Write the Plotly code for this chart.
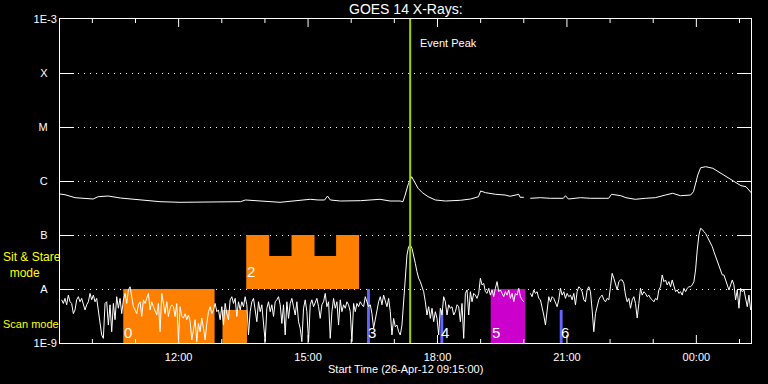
import numpy as np
import pandas as pd
import plotly.graph_objects as go

# ---------------- data ----------------
AXIS_START = "2012-04-26 09:15:00"
AXIS_END = "2012-04-27 01:16:00"

# GOES 14 long channel (1-8 A): minutes after 09:15, flux in units of 1e-9 W/m^2
long_minutes = [0, 7, 21, 46, 53, 67, 84, 111, 139, 167,
                195, 223, 251, 258, 265, 278, 292, 306, 320, 348,
                359, 368, 372, 376, 390, 418, 445, 459, 473, 477,
                480, 484, 489, 493, 498, 504, 512, 522, 536, 557,
                571, 582, 585, 592, 606, 619, 626, 638, 640, 645,
                649, 654, 668, 682, 700, 703, 707, 724, 738, 759,
                763, 767, 780, 787, 800, 814, 828, 842, 852, 863,
                877, 881, 887, 891, 898, 908, 919, 930, 940, 947,
                954, 962]
long_nw = [574, 557, 491, 464, 512, 527, 484, 445, 414, 403,
           403, 403, 414, 445, 439, 421, 408, 403, 421, 458,
           445, 445, 527, 445, 426, 432, 458, 426, 426, 414,
           550, 844, 1202, 971, 733, 607, 512, 445, 426, 439,
           464, 512, 653, 607, 567, 550, 521, 567, 499, 499,
           None, 478, 491, 478, 478, 534, 464, 491, 478, 478,
           478, 567, 534, 491, 458, 478, 491, 550, 592, 534,
           550, 634, 1292, 1762, 1841, 1718, 1390, 1122, 946, 819,
           785, 592]

# GOES 14 short channel (0.5-4 A): regular samples, flux in units of 1e-9 W/m^2
short_first = "2012-04-26 09:17:19"
short_step = "139200ms"
short_nw = [
    6.3, 5.4, 6.7, 5.1, 7.7, 5.8, 5.4, 3.5, 4.1, 6.3,
    7.2, 5.8, 6.7, 5.4, 4.1, 5.1, 5.8, 8.3, 6.3, 7.7,
    5.8, 6.7, 3.8, 2.7, 1.41, 1.22, 5.4, 5.8, 2.15, 5.1,
    1.62, 5.4, 2.7, 7.2, 4.4, 6.7, 3.5, 6.3, 8.3, 5.4,
    9.6, 11.0, 7.2, 4.7, 4.1, 3.5, 5.1, 5.8, 3.1, 6.3,
    5.4, 6.7, 8.3, 4.1, 5.8, 4.7, 3.8, 3.3, 5.4, 1.62,
    8.3, 5.1, 3.5, 5.8, 3.1, 4.4, 5.1, 4.7, 3.1, 5.4,
    1.14, 4.7, 3.1, 2.9, 3.5, 2.7, 3.3, 2.5, 1.14, 1.74,
    2.7, 1.06, 2.3, 1.62, 2.9, 1.87, 1.14, 2.3, 3.8, 4.7,
    3.5, 4.1, 5.4, 3.8, 4.1, 2.7, 4.7, 2.15, 5.4, 3.5,
    2.7, 6.3, 7.2, 5.4, 6.7, 3.1, 5.8, 4.1,
    5.8, 4.7, 7.2, 5.1, 1.41, 3.8, 5.8, 6.7, 4.4, 2.48,
    5.8, 3.8, 5.1, 2.15, 1.06, 4.4, 5.8, 3.8, 5.1, 3.1,
    5.8, 6.3, 7.2, 5.1, 2.3, 5.1, 1.41, 5.8, 2.86, 5.4,
    6.7, 4.7, 3.3, 5.8, 2.48, 1.87, 1.06, 4.4, 6.3, 3.8,
    1.06, 5.1, 6.3, 4.7, 5.8, 6.7, 4.7, 2.86, 5.1, 5.8,
    8.3, 4.7, 5.8, 1.22, 3.8, 6.7, 4.4, 5.8, 2.15, 6.3,
    3.8, 5.1, 4.4, 5.8, 5.1, 3.8, 1.06, 5.4, 3.8, 5.4,
    4.7, 5.8, 5.1, 4.7, 7.2, 5.8, 4.7, 5.1, 3.5, 1.87,
    2.86, 3.8, 5.8, 7.2, 5.1, 7.7, 5.8, 4.7, 6.7, 3.8,
    1.41, 2.86, 2.0, 2.15, 1.62, 1.41, 2.15, 5.8, 18.2, 42.6,
    61, 65,
    56.6, 42.6, 29.9, 20.9, 15.8, 13.7, 11.0, 8.9, 5.8, 3.3,
    4.7, 2.86, 4.4, 2.48, 3.8, 2.86, 1.41, 4.4, 3.3, 7.2,
    5.8, 3.3, 5.1, 4.4, 4.7, 3.3, 3.8, 5.1, 4.7, 2.48,
    5.4, 1.22, 8.3, 9.6, 3.3, 8.9, 5.8, 8.3, 7.7, 6.7,
    8.3, 15.8, 11.9, 12.7, 8.9, 8.3, 10.3, 7.7, 9.6, 7.2,
    10.3, 13.7, 8.9, 9.6, 8.3, 7.2, 8.9, 7.7, 9.6, 6.7,
    8.3, 5.8, 8.3, 7.7, 10.3, 7.2, 6.3, 5.8, None, None,
    None, 8.3, 7.2, 9.6, 8.3, 8.9, 6.7, 6.3, 4.7, 3.3,
    2.15, 4.4, 7.2, 5.8, 7.2, 6.7, 5.8, 4.7, 6.3, 10.3,
    7.7, 8.9, 6.7, 8.3, 7.2, 7.7, 6.3, 8.3, 5.1, 8.9,
    11.0, 10.3,
    8.9, 6.3, 5.8, 9.6, 11.0, 8.9, 4.1, 1.62, 3.5, 4.7,
    6.3, 7.2, 7.7, 6.3, 5.8, 6.7, 6.3, 11.0, 19.5, 15.8,
    12.7, 9.6, 13.7, 14.7, 14.7, 12.7, 7.7, 5.8, 6.7, 4.4,
    6.3, 7.2, 5.4, 2.9, 5.4, 10.3, 7.7, 8.9, 8.3, 7.2,
    7.7, 6.7, 6.3, 5.8, 6.7, 6.3, 9.6, 11.0, 18.2, 13.7,
    14.7, 11.9, 13.7, 11.0, 14.7, 11.9, 8.9, 9.6, 8.3, 8.9,
    7.7, 10.3, 8.9, 10.3, 11.0, 11.0, 11.9, 13.7, 22.5, 53,
    100, 133, 127, 115, 107, 93, 81, 70, 61, 49,
    39.7, 32, 25.9, 20.9, 18.2, 18.2, 14.7, 12.7, 9.6, 11.9,
    14.7, 11.9, 6.3, 9.6, 4.4, 10.3, 8.9, 9.6, 6.7, 4.7,
    7.7, 4.1,
]

event_peak = "2012-04-26 17:22"

# observation blocks
block_labels = ["0", "", "2", "3", "4", "5", "6"]
block_start = ["10:43", "13:01", "13:34", "16:22", "18:04", "19:14", "20:50"]
block_end = ["12:50", "13:35", "16:11", "16:26", "18:08", "20:02", "20:54"]
block_top = [1e-8, 4.1e-9, 1e-7, 1e-8, 4.1e-9, 1e-8, 4.1e-9]
block_bottom = [1e-9, 1e-9, 1e-8, 1e-9, 1e-9, 1e-9, 1e-9]
block_mode = ["scan", "scan", "stare", "blue", "blue", "magenta", "blue"]

# sit & stare block 2 sub-steps
stare_start = ["13:34", "14:06", "14:37", "15:09", "15:39"]
stare_end = ["14:06", "14:37", "15:09", "15:39", "16:11"]
stare_top = [1e-7, 4.1e-8, 1e-7, 4.1e-8, 1e-7]

y_tickvals = [1e-9, 1e-8, 1e-7, 1e-6, 1e-5, 1e-4, 1e-3]
y_ticktext = ["1E-9", "A", "B", "C", "M", "X", "1E-3"]

# hourly axis tick marks (every third hour labelled)
hour_ticks = pd.date_range("2012-04-26 10:00", "2012-04-27 01:00", freq="1h")

# ---------------- styles ----------------
FONT = "Liberation Sans"
WHITE = "#ffffff"
mode_colors = {"scan": "#ff8000", "stare": "#ff8000", "blue": "#6464ff", "magenta": "#cc00cc"}
PEAK_COLOR = "#a0d200"
PLOT_H_PX = 384 - 19 - 41
Y_LOG_RANGE = (-9, -3)
MAJOR_TICK_PX, MINOR_TICK_PX = 8, 4

# ---------------- build ----------------
start_ts = pd.Timestamp(AXIS_START)
fmt = "%Y-%m-%d %H:%M:%S"
long_t = [(start_ts + pd.Timedelta(minutes=m)).strftime(fmt) for m in long_minutes]
long_flux = [None if v is None else v * 1e-9 for v in long_nw]
short_t = [t.strftime(fmt) for t in pd.date_range(short_first, periods=len(short_nw),
                                                  freq=short_step)]
short_flux = [None if v is None else v * 1e-9 for v in short_nw]

fig = go.Figure()


def t_of(hhmm):
    return f"2012-04-26 {hhmm}:00"


def add_poly(xs, ys, col):
    fig.add_trace(go.Scatter(x=xs, y=ys, mode="lines", fill="toself", fillcolor=col,
                             line=dict(width=0, color=col), hoverinfo="skip"))


for lab, s, e, top, bot, mode in zip(block_labels, block_start, block_end,
                                     block_top, block_bottom, block_mode):
    col = mode_colors[mode]
    if mode == "stare":
        xs, ys = [t_of(stare_start[0])], [bot]
        for ss, ee, tt in zip(stare_start, stare_end, stare_top):
            xs += [t_of(ss), t_of(ee)]
            ys += [tt, tt]
        xs += [t_of(stare_end[-1]), t_of(stare_start[0])]
        ys += [bot, bot]
        add_poly(xs, ys, col)
    else:
        add_poly([t_of(s), t_of(s), t_of(e), t_of(e), t_of(s)],
                 [bot, top, top, bot, bot], col)
    if lab:
        fig.add_annotation(x=t_of(s), y=float(np.log10(bot)), xref="x", yref="y",
                           text=lab, showarrow=False, xanchor="left", yanchor="bottom",
                           xshift=-1, yshift=(7 if bot > 1e-9 else 0),
                           font=dict(family=FONT, size=15, color=WHITE))

fig.add_trace(go.Scatter(x=short_t, y=short_flux, mode="lines",
                         line=dict(color=WHITE, width=1), connectgaps=False,
                         hoverinfo="skip"))
fig.add_trace(go.Scatter(x=long_t, y=long_flux, mode="lines",
                         line=dict(color=WHITE, width=1), connectgaps=False,
                         hoverinfo="skip"))

# hourly tick marks (inside) on bottom and top axes, drawn as a line trace
dec_per_px = (Y_LOG_RANGE[1] - Y_LOG_RANGE[0]) / PLOT_H_PX
y_lo, y_hi = 10.0 ** Y_LOG_RANGE[0], 10.0 ** Y_LOG_RANGE[1]
tx, ty = [], []
for ht in hour_ticks:
    hs = ht.strftime(fmt)
    f = 10.0 ** (dec_per_px * (MAJOR_TICK_PX if ht.hour % 3 == 0 else MINOR_TICK_PX))
    tx += [hs, hs, None, hs, hs, None]
    ty += [y_lo * 1.0001, y_lo * f, None, y_hi * 0.9999, y_hi / f, None]
fig.add_trace(go.Scatter(x=tx, y=ty, mode="lines", line=dict(color=WHITE, width=1),
                         connectgaps=False, hoverinfo="skip", cliponaxis=False))

fig.add_shape(type="line", xref="x", yref="paper", x0=event_peak, x1=event_peak,
              y0=0, y1=1, line=dict(color=PEAK_COLOR, width=2), layer="above")
fig.add_annotation(x=event_peak, xref="x", y=1, yref="paper", text="Event Peak",
                   showarrow=False, xanchor="left", yanchor="middle", xshift=8, yshift=-24,
                   font=dict(family=FONT, size=11, color=WHITE))

# title and axis title
fig.add_annotation(x=0.5, xref="paper", y=1, yref="paper", text="GOES 14 X-Rays:",
                   showarrow=False, xanchor="center", yanchor="middle", yshift=10,
                   font=dict(family=FONT, size=14, color=WHITE))
fig.add_annotation(x=0.5, xref="paper", y=0, yref="paper",
                   text="Start Time (26-Apr-12 09:15:00)",
                   showarrow=False, xanchor="center", yanchor="middle", yshift=-26,
                   font=dict(family=FONT, size=11, color=WHITE))

# yellow mode labels
fig.add_annotation(x=0, xref="paper", y=1, yref="paper",
                   text="Sit &amp; Stare<br>\u00a0\u00a0mode",
                   showarrow=False, xanchor="left", yanchor="middle", align="left",
                   xshift=-59, yshift=-(265 - 19),
                   font=dict(family=FONT, size=12, color="#ffff00"))
fig.add_annotation(x=0, xref="paper", y=1, yref="paper", text="Scan mode",
                   showarrow=False, xanchor="left", yanchor="middle",
                   xshift=-59, yshift=-(324 - 19),
                   font=dict(family=FONT, size=11, color="#ffff00"))

pad = "\u00a0\u00a0\u00a0"
ytext = [t if len(t) > 1 else t + pad for t in y_ticktext]

fig.update_layout(
    width=768, height=384,
    paper_bgcolor="black", plot_bgcolor="rgba(0,0,0,0)",
    margin=dict(l=60, r=17, t=19, b=41),
    showlegend=False,
    font=dict(family=FONT, size=11, color=WHITE),
    xaxis=dict(type="date", range=[AXIS_START, AXIS_END],
               showline=True, linecolor=WHITE, linewidth=1, mirror=True,
               ticks="", tick0="2012-04-26 00:00", dtick=3 * 3600 * 1000,
               tickformat="%H:%M", ticklabelstandoff=4,
               showgrid=False, zeroline=False,
               tickfont=dict(family=FONT, size=11, color=WHITE)),
    yaxis=dict(type="log", range=list(Y_LOG_RANGE),
               showline=True, linecolor=WHITE, linewidth=1, mirror="allticks",
               ticks="inside", ticklen=14, tickcolor=WHITE, tickwidth=1,
               tickvals=y_tickvals, ticktext=ytext,
               showgrid=True, gridcolor=WHITE, gridwidth=1, griddash="1px,5px",
               zeroline=False,
               tickfont=dict(family=FONT, size=11, color=WHITE)),
)

fig.write_html("out.html", config={"displayModeBar": False},
               post_script="document.body.style.margin='0';document.body.style.background='black';")
